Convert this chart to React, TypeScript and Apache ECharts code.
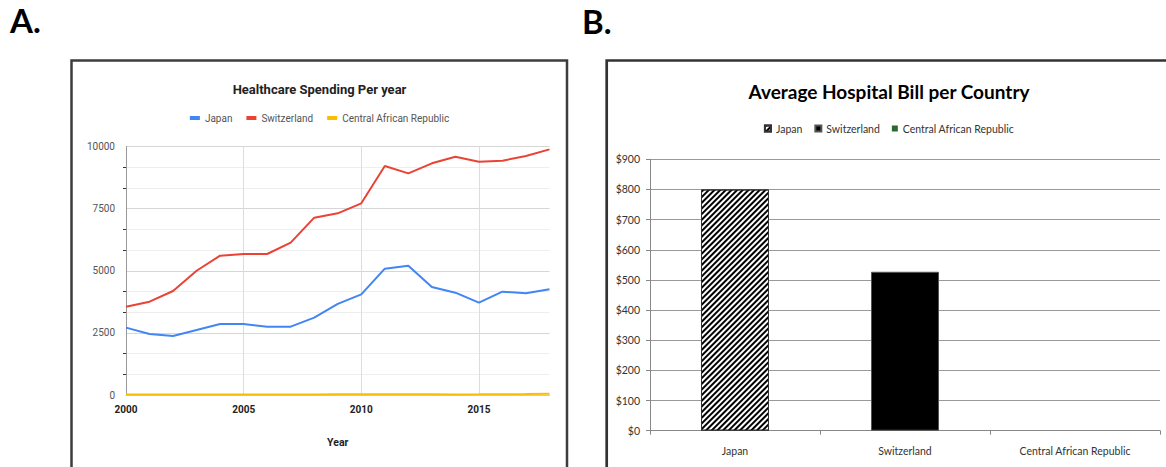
import React, { useEffect, useRef } from "react";
import * as echarts from "echarts";

// Panel A: healthcare spending per capita by year
const years = [
  "2000", "2001", "2002", "2003", "2004", "2005", "2006", "2007", "2008", "2009",
  "2010", "2011", "2012", "2013", "2014", "2015", "2016", "2017", "2018",
];
const japanSpending = [
  2710, 2455, 2375, 2615, 2857, 2857, 2750, 2750, 3112, 3665,
  4050, 5085, 5205, 4345, 4118, 3716, 4159, 4093, 4253,
];
const switzerlandSpending = [
  3553, 3755, 4185, 5000, 5606, 5674, 5674, 6130, 7136, 7310,
  7713, 9215, 8920, 9323, 9590, 9390, 9430, 9617, 9885,
];
const carSpending = [
  18, 17, 16, 18, 19, 20, 20, 22, 24, 26,
  27, 29, 30, 28, 24, 26, 30, 36, 50,
];
const spendingSeriesNames = ["Japan", "Switzerland", "Central African Republic"];

// Panel B: average hospital bill
const countries = ["Japan", "Switzerland", "Central African Republic"];
const hospitalBills = [800, 527, 0];

const lineColors = ["#4285F4", "#EA4335", "#FBBC04"];

function buildSpendingOption(): echarts.EChartsOption {
  const values = [japanSpending, switzerlandSpending, carSpending];
  return {
    animation: false,
    textStyle: { fontFamily: "Roboto" },
    graphic: [
      {
        type: "rect",
        z: -1,
        shape: { x: 71.5, y: 60.5, width: 495.5, height: 500 },
        style: { fill: "none", stroke: "#3d3d3d", lineWidth: 2.5 },
      },
      {
        type: "text",
        left: 10,
        top: 3,
        style: { text: "A.", font: "bold 33px Lato", fill: "#000" },
      },
    ],
    title: {
      text: "Healthcare Spending Per year",
      left: "center",
      top: 83,
      padding: 0,
      textStyle: { fontFamily: "Roboto", fontSize: 13, fontWeight: "bold", color: "#222" },
    },
    legend: {
      data: spendingSeriesNames,
      top: 113,
      left: "center",
      padding: 0,
      icon: "rect",
      itemWidth: 10,
      itemHeight: 4,
      itemGap: 14,
      textStyle: { fontFamily: "Roboto", fontSize: 10, color: "#555" },
    },
    grid: { left: 126, right: 89.5, top: 146.5, bottom: 72 },
    xAxis: {
      type: "category",
      data: years,
      boundaryGap: false,
      name: "Year",
      nameLocation: "middle",
      nameGap: 42,
      nameTextStyle: { fontFamily: "Roboto", fontWeight: "bold", fontSize: 10.5, color: "#222" },
      axisLine: { show: true, lineStyle: { color: "#ccc" } },
      axisTick: { show: false },
      axisLabel: { interval: 4, margin: 9, fontWeight: "bold", fontSize: 10, color: "#222" },
      splitLine: { show: true, interval: 4, lineStyle: { color: "#ddd" } },
    },
    yAxis: {
      type: "value",
      min: 0,
      max: 10000,
      interval: 2500,
      axisLine: { show: true, lineStyle: { color: "#999" } },
      axisTick: { show: false },
      minorTick: { show: true, splitNumber: 3, length: 3, lineStyle: { color: "#333" } },
      minorSplitLine: { show: true, lineStyle: { color: "#eee" } },
      splitLine: { show: true, lineStyle: { color: "#d6d6d6" } },
      axisLabel: {
        margin: 11,
        fontSize: 10,
        color: "#555",
        formatter: (v: number) => String(v),
      },
    },
    series: spendingSeriesNames.map((name, i) => ({
      name,
      type: "line",
      data: values[i],
      symbol: "none",
      color: lineColors[i],
      lineStyle: { width: 2, color: lineColors[i] },
      z: i === 2 ? 5 : 3,
    })),
  };
}

function buildBillOption(): echarts.EChartsOption {
  const styles = [
    {
      color: "#fff",
      borderColor: "#333",
      borderWidth: 1,
      decal: {
        symbol: "rect",
        symbolSize: 1,
        color: "#000",
        dashArrayX: [1, 0],
        dashArrayY: [1.6, 1.5],
        rotation: -Math.PI / 4,
      },
    },
    { color: "#000", borderColor: "#555", borderWidth: 1 },
    { color: "#2d6a2d" },
  ];
  return {
    animation: false,
    textStyle: { fontFamily: "Lato" },
    graphic: [
      {
        type: "rect",
        z: -1,
        shape: { x: 31.7, y: 60.5, width: 700, height: 500 },
        style: { fill: "none", stroke: "#333", lineWidth: 2.7 },
      },
      {
        type: "text",
        left: 7,
        top: 4,
        style: { text: "B.", font: "bold 33px Lato", fill: "#000" },
      },
    ],
    title: {
      text: "Average Hospital Bill per Country",
      left: "center",
      top: 82,
      padding: 0,
      textStyle: { fontFamily: "Lato", fontSize: 19, fontWeight: "bold", color: "#000" },
    },
    legend: {
      data: countries,
      top: 123,
      left: "center",
      padding: 0,
      icon: "rect",
      itemWidth: 6,
      itemHeight: 6,
      itemGap: 12,
      textStyle: { fontFamily: "Lato", fontSize: 10.5, color: "#333" },
    },
    grid: { left: 75, right: 43, top: 159.3, bottom: 36.3 },
    xAxis: {
      type: "category",
      data: countries,
      axisLine: { show: true, lineStyle: { color: "#888" } },
      axisTick: { show: true, length: 4, lineStyle: { color: "#888" } },
      axisLabel: { margin: 15, fontFamily: "Lato", fontSize: 10.5, color: "#333" },
    },
    yAxis: {
      type: "value",
      min: 0,
      max: 900,
      interval: 100,
      axisLine: { show: true, lineStyle: { color: "#888" } },
      axisTick: { show: true, length: 4, lineStyle: { color: "#888" } },
      splitLine: { show: true, lineStyle: { color: "#999" } },
      axisLabel: {
        margin: 10,
        fontFamily: "Lato",
        fontSize: 10.5,
        color: "#333",
        formatter: (v: number) => "$" + v,
      },
    },
    series: countries.map((name, i) => ({
      name,
      type: "bar",
      stack: "bill",
      barWidth: "40%",
      data: countries.map((_, j) => (j === i ? hospitalBills[i] : "-")),
      itemStyle: styles[i],
    })),
  };
}

export default function App() {
  const refA = useRef<HTMLDivElement>(null);
  const refB = useRef<HTMLDivElement>(null);

  useEffect(() => {
    const chartA = echarts.init(refA.current!, undefined, { renderer: "svg" });
    const chartB = echarts.init(refB.current!, undefined, { renderer: "svg" });
    chartA.setOption(buildSpendingOption());
    chartB.setOption(buildBillOption());
    return () => {
      chartA.dispose();
      chartB.dispose();
    };
  }, []);

  return (
    <div
      style={{
        position: "fixed",
        left: 0,
        top: 0,
        width: 1166,
        height: 467,
        overflow: "hidden",
        background: "#fff",
      }}
    >
      <div ref={refA} style={{ position: "absolute", left: 0, top: 0, width: 639, height: 467 }} />
      <div ref={refB} style={{ position: "absolute", left: 575, top: 0, width: 628, height: 467 }} />
    </div>
  );
}
